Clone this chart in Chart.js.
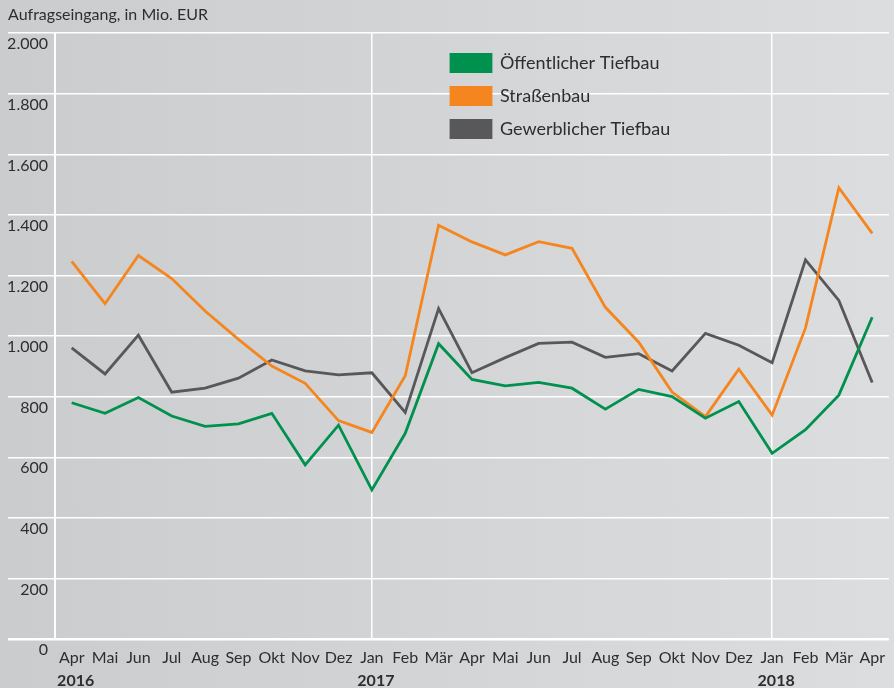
<!DOCTYPE html>
<html>
<head>
<meta charset="utf-8">
<script src="https://cdn.jsdelivr.net/npm/chart.js@4"></script>
<style>
  html, body { margin: 0; padding: 0; }
  #wrap {
    width: 894px; height: 688px;
    background: linear-gradient(to right, #cbcccd, #dcdddf);
  }
</style>
</head>
<body>
<div id="wrap"><canvas id="chart" width="894" height="688"></canvas></div>
<script>
// Monate April 2016 bis April 2018
const months = ['Apr', 'Mai', 'Jun', 'Jul', 'Aug', 'Sep', 'Okt', 'Nov', 'Dez',
                'Jan', 'Feb', 'Mär', 'Apr', 'Mai', 'Jun', 'Jul', 'Aug', 'Sep', 'Okt', 'Nov', 'Dez',
                'Jan', 'Feb', 'Mär', 'Apr'];
const yearLabels = ['2016', '', '', '', '', '', '', '', '',
                    '2017', '', '', '', '', '', '', '', '', '', '', '',
                    '2018', '', '', ''];

// Aufragseingang, in Mio. EUR
const oeffentlicherTiefbau = [780, 745, 797, 736, 702, 710, 745, 575, 706, 492, 679, 975,
                              857, 836, 847, 828, 759, 824, 800, 729, 784, 613, 691, 805, 1062];
const strassenbau = [1247, 1107, 1266, 1190, 1083, 989, 901, 844, 721, 682, 869, 1366,
                     1311, 1268, 1312, 1290, 1095, 980, 815, 734, 891, 739, 1027, 1490, 1339];
const gewerblicherTiefbau = [961, 875, 1003, 815, 828, 861, 921, 885, 872, 879, 748, 1091,
                             879, 929, 976, 980, 930, 942, 885, 1009, 970, 912, 1252, 1118, 847];

const seriesNames = ['Öffentlicher Tiefbau', 'Straßenbau', 'Gewerblicher Tiefbau'];
const seriesColors = ['#00914f', '#f5861f', '#58585a'];

const yTicks = [0, 200, 400, 600, 800, 1000, 1200, 1400, 1600, 1800, 2000];

Chart.defaults.font.family = 'Lato, "Open Sans", sans-serif';
Chart.defaults.color = '#2e2e2e';

function formatDe(v) {
    return String(v).replace(/\B(?=(\d{3})+(?!\d))/g, '.');
}

// Legende in den Diagrammbereich verschieben
const legendPlacer = {
    id: 'legendPlacer',
    afterLayout(chart) {
        if (chart.legend) {
            chart.legend.left = 436;
            chart.legend.top = 39;
        }
    }
};

const datasets = [oeffentlicherTiefbau, strassenbau, gewerblicherTiefbau].map((values, i) => ({
    label: seriesNames[i],
    data: values,
    borderColor: seriesColors[i],
    backgroundColor: seriesColors[i],
    borderWidth: 2.8,
    pointRadius: 0,
    tension: 0
}));

new Chart(document.getElementById('chart'), {
    type: 'line',
    data: { labels: months, datasets: datasets },
    plugins: [legendPlacer],
    options: {
        responsive: false,
        animation: false,
        layout: { padding: { left: 8, right: 0, top: 0, bottom: 0 } },
        plugins: {
            title: {
                display: true,
                text: 'Aufragseingang, in Mio. EUR',
                align: 'start',
                color: '#2e2e2e',
                font: { size: 16, weight: 'normal' },
                padding: { top: 5, bottom: 9 }
            },
            legend: {
                position: 'chartArea',
                align: 'start',
                labels: {
                    boxWidth: 40,
                    boxHeight: 17,
                    padding: 15,
                    color: '#2e2e2e',
                    font: { size: 18 }
                }
            },
            tooltip: { enabled: false }
        },
        scales: {
            x: {
                offset: true,
                grid: {
                    drawTicks: false,
                    lineWidth: 1.5,
                    color: ctx => (yearLabels[ctx.index] && ctx.index > 0) ? '#ffffff' : 'rgba(0,0,0,0)'
                },
                border: { display: false },
                ticks: { autoSkip: false, maxRotation: 0, padding: 9, font: { size: 16 }, color: '#2e2e2e' },
                afterFit: scale => { scale.height = 29; }
            },
            x2: {
                type: 'category',
                position: 'bottom',
                labels: yearLabels,
                offset: true,
                grid: { display: false, drawTicks: false },
                border: { display: false },
                ticks: { autoSkip: false, maxRotation: 0, padding: 3, labelOffset: 4, font: { size: 16, weight: 'bold' }, color: '#2e2e2e' },
                afterFit: scale => { scale.height = 20; }
            },
            y: {
                min: 0,
                max: 2000,
                afterBuildTicks: scale => { scale.ticks = yTicks.map(v => ({ value: v })); },
                grid: {
                    color: '#ffffff',
                    lineWidth: ctx => (ctx.tick && ctx.tick.value === 0) ? 2.6 : 1.5,
                    drawTicks: true,
                    tickLength: 47
                },
                border: { display: true, color: '#ffffff', width: 2 },
                ticks: {
                    padding: -40,
                    labelOffset: 11,
                    font: { size: 16 },
                    color: '#2e2e2e',
                    callback: v => formatDe(v)
                },
                afterFit: scale => { scale.width = 47; }
            }
        }
    }
});
</script>
</body>
</html>
